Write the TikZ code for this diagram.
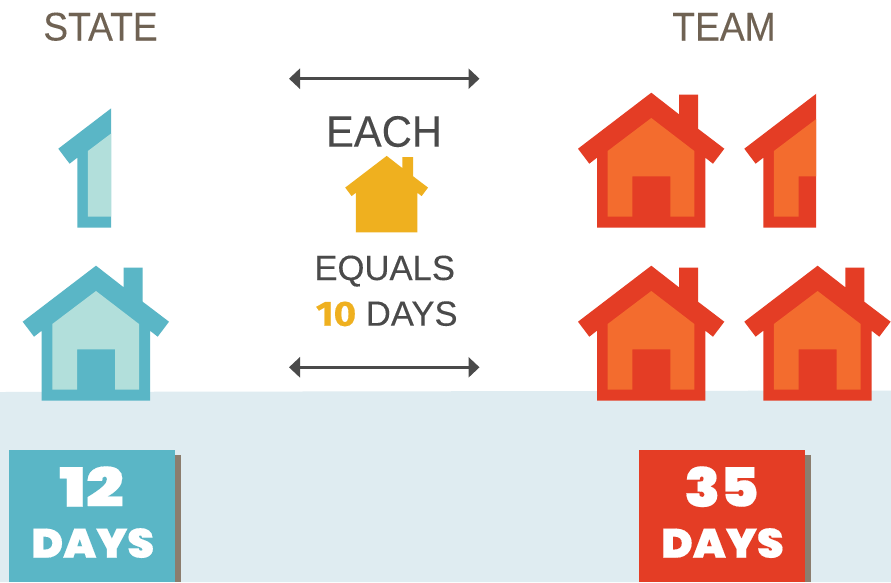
\documentclass[tikz,border=0pt]{standalone}
\usepackage{fontspec}
\usetikzlibrary{arrows.meta}
\setmainfont{Liberation Sans}
\newfontfamily\headface[FakeStretch=0.93,FakeBold=0.12]{Liberation Sans}
\newfontfamily\eachface[FakeStretch=0.95,FakeBold=0.12]{Liberation Sans}
\newfontfamily\capface[FakeStretch=0.99,FakeBold=0.12]{Liberation Sans}
\newfontfamily\numface[FakeStretch=1.08,FakeBold=0.3]{Poppins Black}
\newfontfamily\onetwoface[FakeStretch=1.24,FakeBold=0.3]{Poppins Black}
\newfontfamily\dayface[FakeStretch=1.04,FakeBold=0.3]{Poppins Black}
\newfontfamily\midface[FakeStretch=1.1,FakeBold=0.3]{Fira Sans Bold}
\definecolor{bandcol}{HTML}{DFECF1}
\definecolor{tealcol}{HTML}{5AB6C6}
\definecolor{tealpale}{HTML}{B2DFDB}
\definecolor{redcol}{HTML}{E43D25}
\definecolor{orangecol}{HTML}{F36C2E}
\definecolor{goldcol}{HTML}{EFB01F}
\definecolor{inkcol}{HTML}{4A4A4A}
\definecolor{browncol}{HTML}{6F6253}
\definecolor{shadowcol}{HTML}{8B7D6E}
\tikzset{
  txt/.style={anchor=base,inner sep=0pt,outer sep=0pt},
  heading/.style={txt,text=browncol,font=\headface\fontsize{40}{40}\selectfont},
  captxt/.style={txt,text=inkcol,font=\capface\fontsize{35}{35}\selectfont},
  numtxt/.style={txt,text=white,font=\numface\fontsize{54}{54}\selectfont},
  daytxt/.style={txt,text=white,font=\dayface\fontsize{41}{41}\selectfont},
  spanline/.style={draw=inkcol,line width=2.6pt,{Triangle[length=11pt,width=20pt]}-{Triangle[length=11pt,width=20pt]}}
}
\newcommand{\hausouter}{(0,-135) -- (27.7,-113.4) -- (27.7,-133) -- (46.7,-133) -- (46.7,-99) -- (73,-79) -- (61.7,-64) -- (54,-70) -- (54,0) -- (-54.3,0) -- (-54.3,-70) -- (-62,-64) -- (-73.3,-79) -- cycle}
\newcommand{\hausinner}{(0,-109.7) -- (43,-76.7) -- (43,-11) -- (19,-11) -- (19,-51.4) -- (-19,-51.4) -- (-19,-11) -- (-43.7,-11) -- (-43.7,-76.7) -- cycle}
% #1 peak x, #2 bottom y, #3 outer colour, #4 inner colour
\newcommand{\hausicon}[4]{\begin{scope}[shift={(#1,#2)}]
  \fill[#3] \hausouter;
  \fill[#4] \hausinner;
\end{scope}}
\begin{document}
\begin{tikzpicture}[x=1pt,y=-1pt]
\useasboundingbox (0,0) rectangle (891,582);
\fill[white] (0,0) rectangle (891,582);
\fill[bandcol] (0,392) -- (891,390.5) -- (891,582) -- (0,582) -- cycle;

\node[heading] (stateh) at (100.5,40.5) {STATE};
\node[heading] (teamh) at (724,40.5) {TEAM};

% state houses
\begin{scope}
  \clip (0,90) rectangle (111,240);
  \hausicon{131.6}{227.7}{tealcol}{tealpale}
\end{scope}
\hausicon{96}{400.7}{tealcol}{tealpale}

% team houses
\hausicon{651.3}{227.7}{redcol}{orangecol}
\begin{scope}
  \clip (730,85) rectangle (816,240);
  \hausicon{817.6}{227.7}{redcol}{orangecol}
\end{scope}
\hausicon{651.3}{400.7}{redcol}{orangecol}
\hausicon{817.6}{400.7}{redcol}{orangecol}

% legend
\coordinate (topl) at (289,78.7);
\coordinate (topr) at (479.5,78.7);
\coordinate (botl) at (289,367.3);
\coordinate (botr) at (479.5,367.3);
\draw[spanline] (topl) -- (topr);
\draw[spanline] (botl) -- (botr);
\node[txt,text=inkcol,font=\eachface\fontsize{44}{44}\selectfont] (each) at (384,146.7) {EACH};
\begin{scope}[shift={(386.7,232.3)},scale=0.566]
  \fill[goldcol] \hausouter;
\end{scope}
\node[captxt] (equals) at (384.7,280) {EQUALS};
\node[captxt] (tendays) at (386.7,325.7) {{\midface\color{goldcol}10} DAYS};

% totals
\fill[shadowcol] (15,455) rectangle (181,582);
\fill[tealcol] (9,450) rectangle (175,582);
\node[numtxt,font=\onetwoface\fontsize{54}{54}\selectfont] (num12) at (91.5,506.7) {12};
\node[daytxt] (days12) at (92.8,557.7) {DAYS};

\fill[shadowcol] (645,455) rectangle (811,582);
\fill[redcol] (639,450) rectangle (805,582);
\node[numtxt] (num35) at (721.5,506.7) {35};
\node[daytxt] (days35) at (722.4,557.7) {DAYS};
\end{tikzpicture}
\end{document}
